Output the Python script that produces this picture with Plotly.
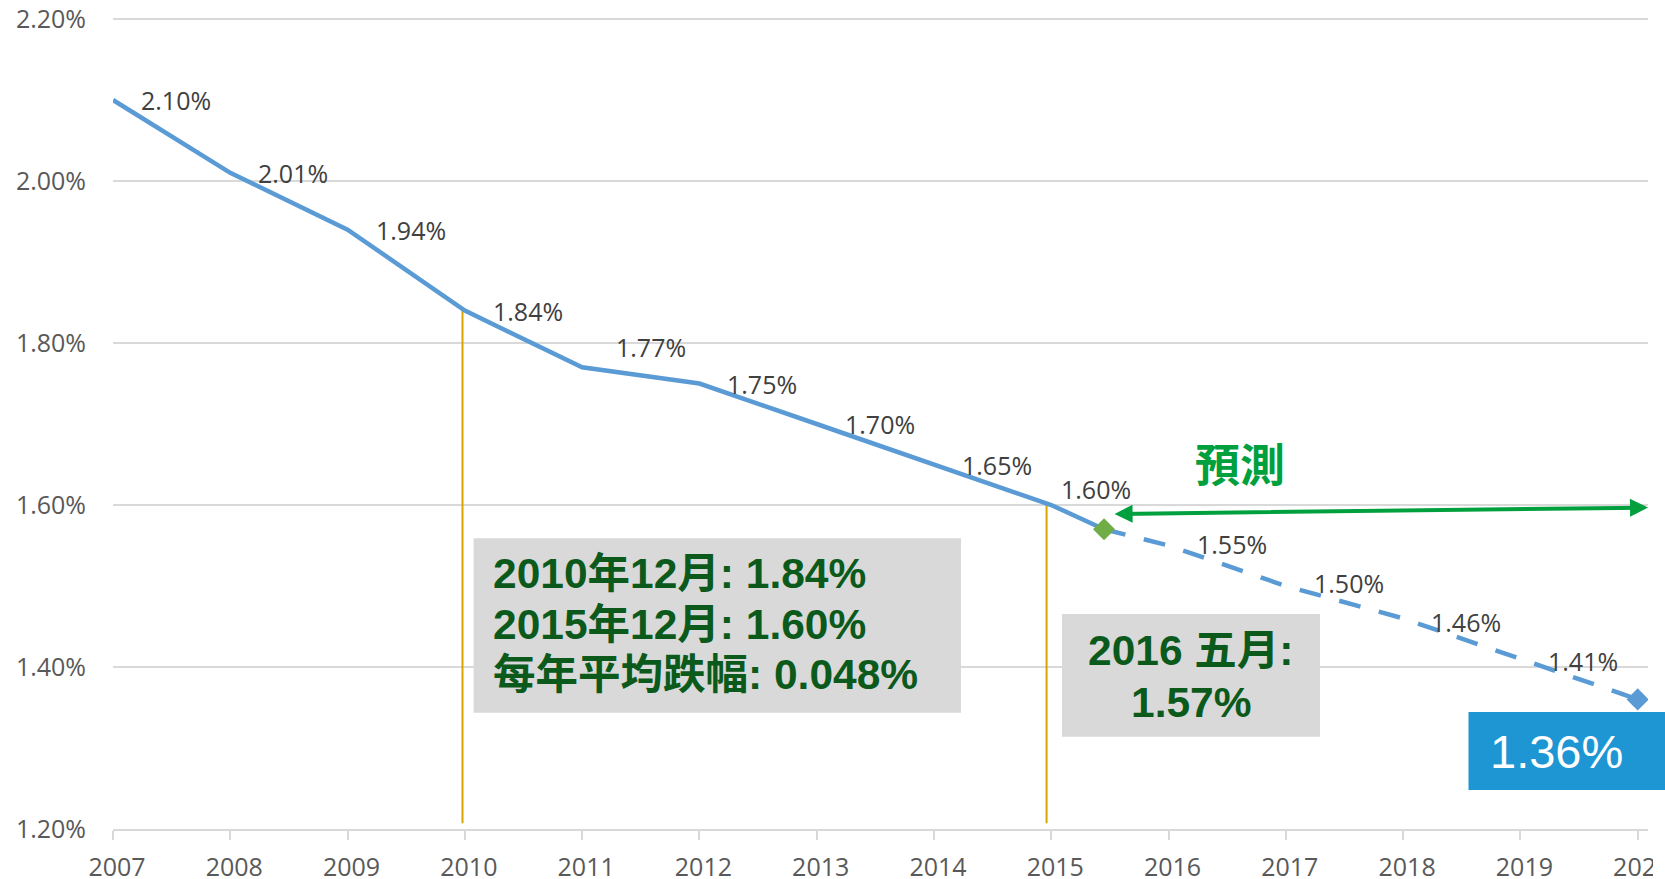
import plotly.graph_objects as go

# ---------------- data ----------------
years_hist = [2007, 2008, 2009, 2010, 2011, 2012, 2013, 2014, 2015]
rate_hist = [2.10, 2.01, 1.94, 1.84, 1.77, 1.75, 1.70, 1.65, 1.60]
now_year = 2015.45          # position of "2016 五月" on the year axis
now_rate = 1.57
years_fc = [2016, 2017, 2018, 2019, 2020]
rate_fc = [1.55, 1.50, 1.46, 1.41, 1.36]
ref_years = [2009.98, 2014.96]
ref_rates = [1.84, 1.60]
y_ticks = [1.20, 1.40, 1.60, 1.80, 2.00, 2.20]
x_ticks = list(range(2007, 2021))
box1_lines = ["2010年12月: 1.84%", "2015年12月: 1.60%", "每年平均跌幅: 0.048%"]
box2_lines = ["2016 五月:", "1.57%"]
forecast_text = "預測"
end_text = "1.36%"

# ---------------- styles ----------------
BLUE = "#5B9BD5"
GRID = "#D9D9D9"
GOLD = "#D9A400"
DKGREEN = "#0B5A1C"
GREEN = "#00A03E"
W, H = 1665, 879
L, R, T, B = 113, 17, 17, 50
PW, PH = W - L - R, H - T - B
Y_TOP = 2.2 + 2 / 810.0


def px(x):
    """page pixel x -> paper fraction"""
    return (x - L) / PW


def py(y):
    """page pixel y -> paper fraction"""
    return (H - B - y) / PH


fig = go.Figure()

# reference (gold) vertical lines
for yr, rt in zip(ref_years, ref_rates):
    fig.add_trace(go.Scatter(x=[yr, yr], y=[1.207, rt], mode="lines",
                             line=dict(color=GOLD, width=2), hoverinfo="skip"))

# historical solid line (to the May 2016 point)
fig.add_trace(go.Scatter(x=years_hist + [now_year], y=rate_hist + [now_rate],
                         mode="lines", line=dict(color=BLUE, width=4.5),
                         hoverinfo="skip"))
# forecast dashed line
fig.add_trace(go.Scatter(x=[now_year] + years_fc, y=[now_rate] + rate_fc,
                         mode="lines", line=dict(color=BLUE, width=4.5, dash="22px,19px"),
                         hoverinfo="skip"))
# current point marker
fig.add_trace(go.Scatter(x=[now_year], y=[now_rate], mode="markers",
                         marker=dict(symbol="diamond", size=17, color="#70AD47"),
                         hoverinfo="skip"))
# end marker
fig.add_trace(go.Scatter(x=[years_fc[-1]], y=[rate_fc[-1]], mode="markers",
                         marker=dict(symbol="diamond", size=17, color=BLUE),
                         cliponaxis=True, hoverinfo="skip"))

annotations = []
label_font = dict(family="Open Sans", size=25, color="#404040")
hist_shift = {2011: (32, 20), 2015: (8, 16)}
fc_shift = {2016: (26, 2), 2017: (26, 3), 2018: (26, -4), 2019: (26, -2)}
for yr, rt in zip(years_hist, rate_hist):
    xs, ys = hist_shift.get(yr, (26, 0))
    annotations.append(dict(x=yr, y=rt, xref="x", yref="y", text=f"{rt:.2f}%",
                            showarrow=False, xanchor="left", yanchor="middle",
                            xshift=xs, yshift=ys, font=label_font))
for yr, rt in zip(years_fc[:-1], rate_fc[:-1]):
    xs, ys = fc_shift.get(yr, (26, 0))
    annotations.append(dict(x=yr, y=rt, xref="x", yref="y", text=f"{rt:.2f}%",
                            showarrow=False, xanchor="left", yanchor="middle",
                            xshift=xs, yshift=ys, font=label_font))

box_font = dict(family="Liberation Sans, Arial, Noto Sans CJK TC", size=42.5,
                color=DKGREEN, weight="bold")
for txt, yy in zip(box1_lines, [573, 624, 674]):
    annotations.append(dict(x=px(491), y=py(yy), xref="paper", yref="paper", text=txt,
                            showarrow=False, xanchor="left", yanchor="middle",
                            font=box_font))
for txt, yy in zip(box2_lines, [650.5, 702]):
    annotations.append(dict(x=px(1191), y=py(yy), xref="paper", yref="paper", text=txt,
                            showarrow=False, xanchor="center", yanchor="middle",
                            font=box_font))

annotations.append(dict(x=px(1240), y=py(462), xref="paper", yref="paper",
                        text=forecast_text, showarrow=False,
                        xanchor="center", yanchor="middle",
                        font=dict(family="Noto Sans CJK TC", size=45, color=GREEN,
                                  weight="bold")))
annotations.append(dict(x=px(1556), y=py(751), xref="paper", yref="paper",
                        text=end_text, showarrow=False,
                        xanchor="center", yanchor="middle",
                        font=dict(family="Liberation Sans, Arial", size=47, color="white")))

# double-headed forecast arrow
annotations.append(dict(x=2020.088, y=1.5968, ax=2015.527, ay=1.5889,
                        xref="x", yref="y", axref="x", ayref="y", text="",
                        showarrow=True, arrowhead=2, startarrowhead=2,
                        arrowside="end+start", arrowwidth=4, arrowsize=0.9,
                        startarrowsize=0.9, arrowcolor=GREEN))

shapes = [
    dict(type="rect", xref="paper", yref="paper", x0=px(473.6), x1=px(961),
         y0=py(712.7), y1=py(538.3), fillcolor=GRID, line=dict(width=0), layer="above"),
    dict(type="rect", xref="paper", yref="paper", x0=px(1062), x1=px(1320),
         y0=py(736.7), y1=py(614), fillcolor=GRID, line=dict(width=0), layer="above"),
    dict(type="rect", xref="paper", yref="paper", x0=px(1468.5), x1=px(1670),
         y0=py(790), y1=py(712), fillcolor="#1E96D3", line=dict(width=0), layer="above"),
    dict(type="rect", xref="paper", yref="paper", x0=px(1653), x1=px(1670),
         y0=py(885), y1=py(840), fillcolor="white", line=dict(width=0), layer="above"),
]

fig.update_layout(
    width=W, height=H,
    margin=dict(l=L, r=R, t=T, b=B, pad=0, autoexpand=False),
    paper_bgcolor="white", plot_bgcolor="white",
    showlegend=False,
    annotations=annotations,
    shapes=shapes,
    xaxis=dict(range=[2007, 2020.088], tickvals=x_ticks, ticktext=[str(v) for v in x_ticks],
               automargin=False, ticklabeloverflow="allow",
               showgrid=False, zeroline=False, showline=True, linecolor=GRID, linewidth=2,
               ticks="outside", ticklen=9, tickwidth=2, tickcolor=GRID,
               ticklabelstandoff=6, ticklabelshift=4,
               tickfont=dict(family="Open Sans", size=25, color="#595959")),
    yaxis=dict(range=[1.2, Y_TOP], tickvals=y_ticks, ticktext=[f"{v:.2f}%" for v in y_ticks],
               automargin=False, ticklabeloverflow="allow",
               showgrid=True, gridcolor=GRID, gridwidth=1.5, zeroline=False, showline=False,
               ticks="", ticklabelstandoff=26,
               tickfont=dict(family="Open Sans", size=25, color="#595959")),
)

fig.write_html("out.html", config={"displayModeBar": False},
               post_script="document.body.style.margin='0px';"
                           "document.body.style.overflow='hidden';")
